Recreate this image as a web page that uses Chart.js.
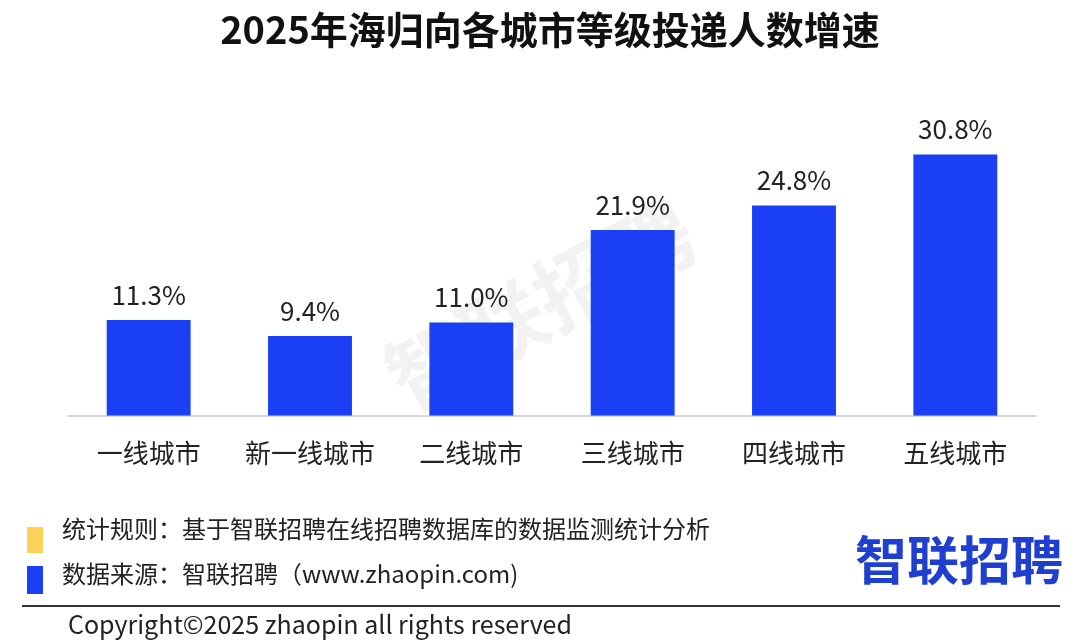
<!DOCTYPE html>
<html>
<head>
<meta charset="utf-8">
<script src="https://cdn.jsdelivr.net/npm/chart.js@4"></script>
<style>
	html, body { margin: 0; padding: 0; background: #fff; }
	#wrap { width: 1080px; height: 640px; }
</style>
</head>
<body>
<div id="wrap"><canvas id="c" width="1080" height="640"></canvas></div>
<script>
// 城市等级 / 增速
const categories = ['一线城市', '新一线城市', '二线城市', '三线城市', '四线城市', '五线城市'];
const growth = [11.3, 9.4, 11.0, 21.9, 24.8, 30.8];
const titleText = '2025年海归向各城市等级投递人数增速';
const noteRule = '统计规则：基于智联招聘在线招聘数据库的数据监测统计分析';
const noteSource = '数据来源：智联招聘（www.zhaopin.com)';
const copyright = 'Copyright©2025 zhaopin all rights reserved';

const FONT = '"Noto Sans CJK SC", "Noto Sans", sans-serif';
const BLUE = '#1a3ff5';

// 标题、水印、数值、底部说明
const extras = {
	id: 'extras',
	beforeDatasetsDraw: function(chart) {
		const ctx = chart.ctx;
		ctx.save();
		ctx.translate(540, 305);
		ctx.rotate(-0.5);
		ctx.font = 'bold 84px ' + FONT;
		ctx.fillStyle = 'rgba(0,0,0,0.05)';
		ctx.textAlign = 'center';
		ctx.textBaseline = 'middle';
		ctx.fillText('智联招聘', 0, 0);
		ctx.restore();
	},
	afterDatasetsDraw: function(chart) {
		const ctx = chart.ctx;
		ctx.save();
		ctx.font = '26px ' + FONT;
		ctx.fillStyle = '#222';
		ctx.textAlign = 'center';
		ctx.textBaseline = 'bottom';
		chart.getDatasetMeta(0).data.forEach(function(bar, i) {
			ctx.fillText(growth[i].toFixed(1) + '%', bar.x, bar.y - 12);
		});
		ctx.restore();
	},
	afterDraw: function(chart) {
		const ctx = chart.ctx;
		ctx.save();
		// title
		ctx.font = 'bold 38px ' + FONT;
		ctx.fillStyle = '#111';
		ctx.textAlign = 'center';
		ctx.textBaseline = 'middle';
		ctx.fillText(titleText, 550, 30);

		// notes
		ctx.fillStyle = '#fcd15a';
		ctx.fillRect(27, 527, 16, 26);
		ctx.fillStyle = BLUE;
		ctx.fillRect(27, 566, 16, 28);
		ctx.font = '24px ' + FONT;
		ctx.fillStyle = '#222';
		ctx.textAlign = 'left';
		ctx.fillText(noteRule, 62, 529);
		ctx.fillText(noteSource, 62, 574);

		// logo
		ctx.font = 'bold 52px ' + FONT;
		ctx.fillStyle = '#1e3fcf';
		ctx.fillText('智联招聘', 855, 560);

		// divider + copyright
		ctx.strokeStyle = '#333';
		ctx.lineWidth = 2;
		ctx.beginPath();
		ctx.moveTo(22, 606);
		ctx.lineTo(1060, 606);
		ctx.stroke();
		ctx.font = '25px ' + FONT;
		ctx.fillStyle = '#222';
		ctx.fillText(copyright, 68, 624);
		ctx.restore();
	}
};

new Chart(document.getElementById('c'), {
	type: 'bar',
	data: {
		labels: categories,
		datasets: [{
			data: growth,
			backgroundColor: BLUE,
			barPercentage: 0.52,
			categoryPercentage: 1
		}]
	},
	options: {
		responsive: false,
		animation: false,
		layout: { padding: { top: 119, left: 68, right: 44, bottom: 149 } },
		plugins: { legend: { display: false }, tooltip: { enabled: false } },
		scales: {
			x: {
				grid: { display: false, drawTicks: false },
				border: { display: true, color: '#d8d8d8', width: 2 },
				ticks: { font: { family: FONT, size: 26 }, color: '#222', padding: 22 }
			},
			y: { display: false, min: 0, max: 35 }
		}
	},
	plugins: [extras]
});
</script>
</body>
</html>
